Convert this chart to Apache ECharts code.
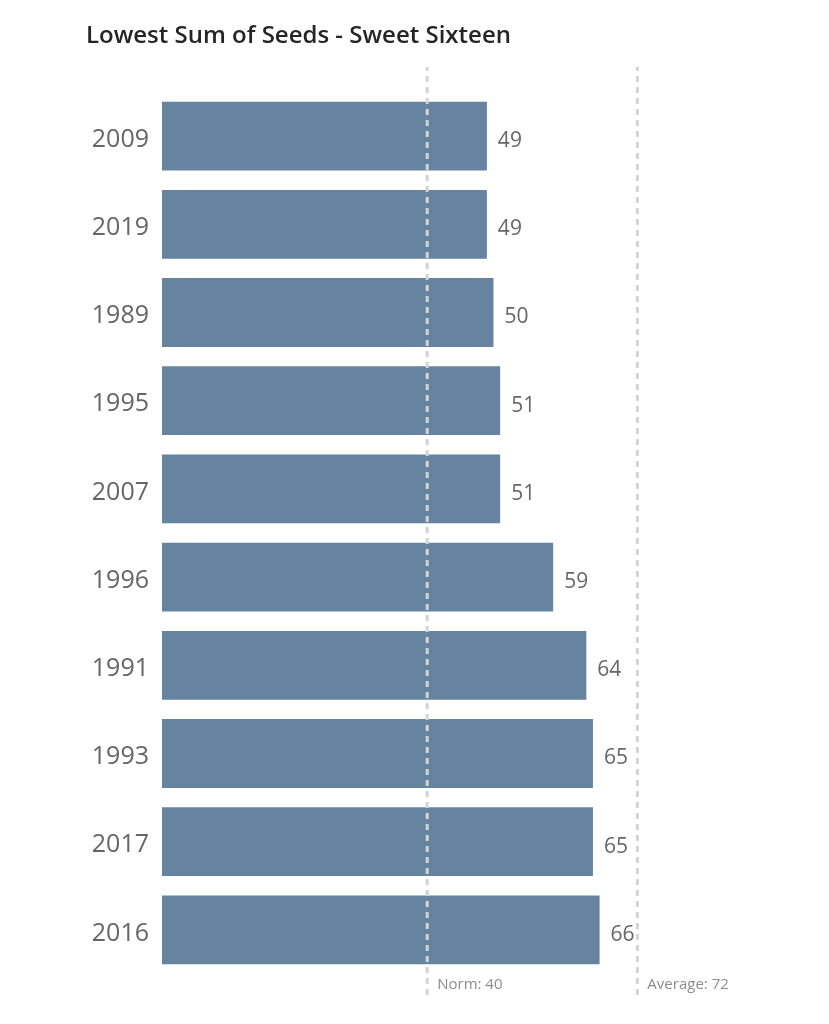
<!DOCTYPE html>
<html><head><meta charset="utf-8">
<script src="https://cdn.jsdelivr.net/npm/echarts@6/dist/echarts.min.js"></script>
<style>html,body{margin:0;padding:0;background:#fff}#c{width:829px;height:1024px}</style>
</head><body><div id="c"></div>
<script>
const categories = ['2009','2019','1989','1995','2007','1996','1991','1993','2017','2016'];
const values = [49,49,50,51,51,59,64,65,65,66];
const normValue = 40;
const averageValue = 71.7;
const normLabel = 'Norm: 40';
const averageLabel = 'Average: 72';
const XMAX = 100;

const chart = echarts.init(document.getElementById('c'));
const font = '"Open Sans", "Noto Sans", sans-serif';
const gridLeft = 162, gridWidth = 663;
function refLine(v){
  return {
    type:'line', xAxisIndex:1, yAxisIndex:1, z:10, silent:true,
    symbol:'none', animation:false,
    lineStyle:{color:'#d4d4d4', width:3, type:[6,5]},
    data:[[v,0],[v,1]]
  };
}
chart.setOption({
  animation:false,
  title:{text:'Lowest Sum of Seeds - Sweet Sixteen', left:81, top:19,
    textStyle:{fontFamily:font, fontWeight:600, fontSize:24, color:'#252525'}},
  grid:[
    {left:gridLeft, width:gridWidth, top:92, height:882},
    {left:gridLeft, width:gridWidth, top:67, height:928}
  ],
  xAxis:[
    {type:'value', gridIndex:0, min:0, max:XMAX, show:false},
    {type:'value', gridIndex:1, min:0, max:XMAX, show:false}
  ],
  yAxis:[
    {type:'category', gridIndex:0, data:categories, inverse:true,
     axisLine:{show:false}, axisTick:{show:false},
     axisLabel:{margin:13, formatter:'{a|{value}}',
       rich:{a:{color:'#666', fontSize:25, fontFamily:font, padding:[7,0,0,0]}}}},
    {type:'value', gridIndex:1, min:0, max:1, show:false}
  ],
  series:[
    {type:'bar', data:values, barCategoryGap:'22%',
     itemStyle:{color:'#6683a0'},
     label:{show:true, position:'right', distance:11, offset:[0,5], color:'#666', fontSize:21, fontFamily:font}},
    refLine(normValue),
    refLine(averageValue),
    {type:'scatter', xAxisIndex:1, yAxisIndex:1, symbolSize:0, silent:true, z:11,
     data:[
       {value:[normValue,0], name:normLabel},
       {value:[averageValue,0], name:averageLabel}
     ],
     label:{show:true, position:'right', distance:10, offset:[0,-10], formatter:'{b}', color:'#6f6f6f', fontSize:15, fontFamily:font}}
  ]
});
</script></body></html>
